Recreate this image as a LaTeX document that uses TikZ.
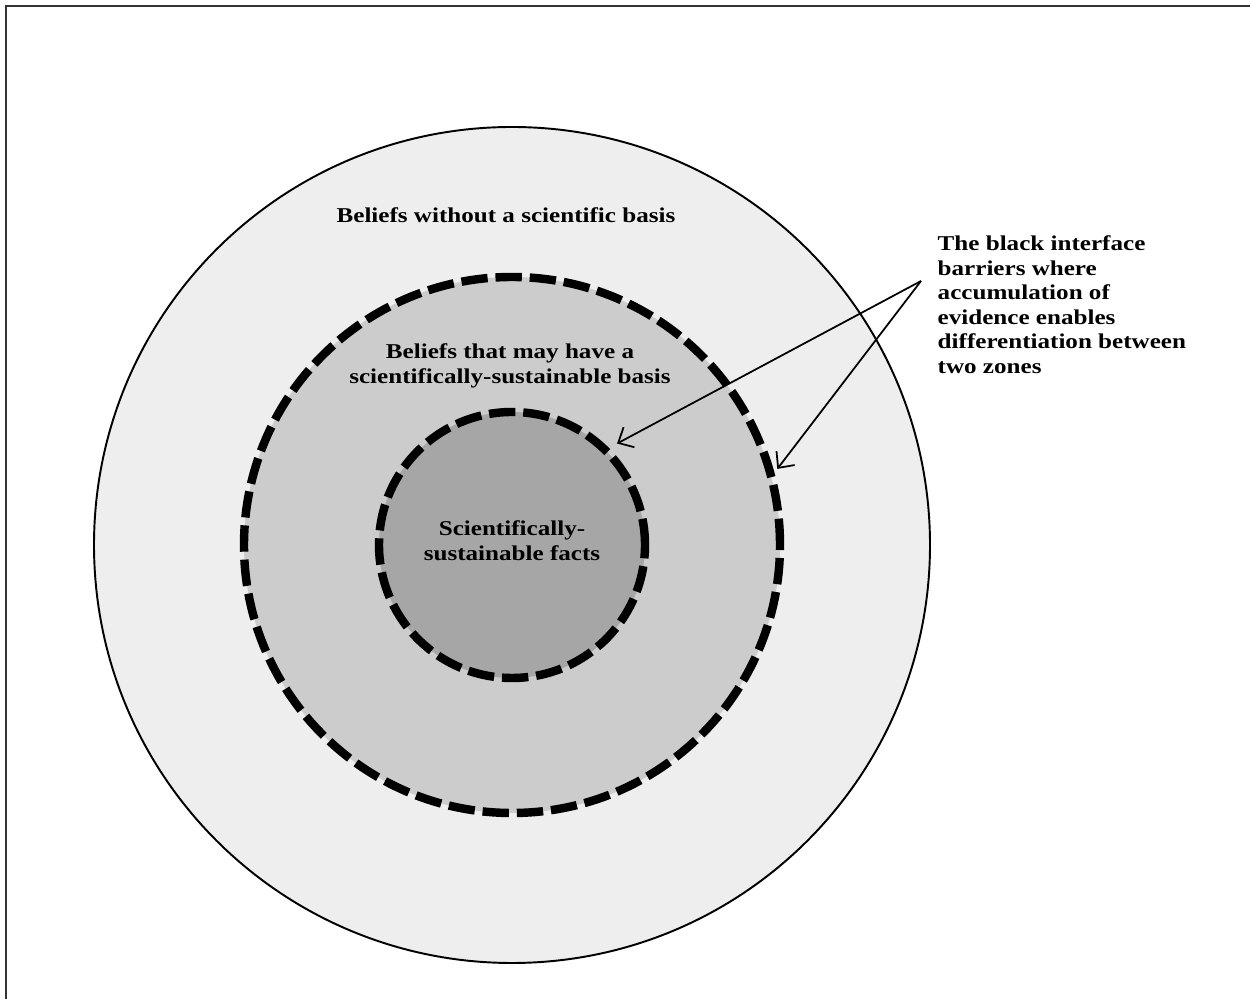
\documentclass[tikz,border=0pt]{standalone}
\usepackage{fontspec}
\setmainfont{Liberation Serif}
\newfontfamily\labelfont[FakeStretch=1.19]{Liberation Serif}
\usetikzlibrary{arrows.meta}
\usetikzlibrary{calc}
\definecolor{zoneOuter}{HTML}{EEEEEE}
\definecolor{zoneMiddle}{HTML}{CCCCCC}
\definecolor{zoneInner}{HTML}{A6A6A6}

\begin{document}
\begin{tikzpicture}
[-,thick,%
  zoneDecorate/.style={shape=circle,inner sep=0pt,outer sep=0pt,draw},%
  zoneLine/.style={line width=1.1pt},%
  barrierLine/.style={line width=4.8pt,dash pattern=on 15pt off 4.5pt},%
  labelDecorate/.style={align=center,font=\labelfont\bfseries\fontsize{12}{14}\selectfont},%
  arrowDecorate/.style={-{Straight Barb[length=7pt,width=13pt]},line width=1pt}]
\useasboundingbox (0,0) rectangle (25,19.98);
%% frame
\draw[line width=1pt,black!80] (25,19.86) -- (0.12,19.86) -- (0.12,0);
%% zones
\foreach \nodename/\size/\shade/\border in {
  outer/16.72/zoneOuter/zoneLine, middle/10.72/zoneMiddle/barrierLine,
  inner/5.32/zoneInner/barrierLine}
{
  \node[zoneDecorate,minimum size=\size cm,fill=\shade,\border] (\nodename) at (10.24,9.08) {};
}
%% zone labels
\node[labelDecorate] (outerLabel) at (10.12,15.68) {Beliefs without a scientific basis};
\node[labelDecorate] (middleLabel) at (10.2,12.66) {Beliefs that may have a\\scientifically-sustainable basis};
\node[labelDecorate] (innerLabel) at (10.24,9.16) {Scientifically-\\sustainable facts};
\node[labelDecorate,align=left,anchor=north west,inner sep=0pt] (barrierLabel) at (18.74,15.28)
  {The black interface\\barriers where\\accumulation of\\evidence enables\\differentiation between\\two zones};
%% arrows to the barriers
\coordinate (apex) at (18.42,14.36);
\coordinate (innerTip) at ($(inner.center)+(44:2.92)$);
\coordinate (middleTip) at ($(middle.center)+(16:5.52)$);
\draw[arrowDecorate] (apex) -- (innerTip);
\draw[arrowDecorate] (apex) -- (middleTip);
\end{tikzpicture}
\end{document}
